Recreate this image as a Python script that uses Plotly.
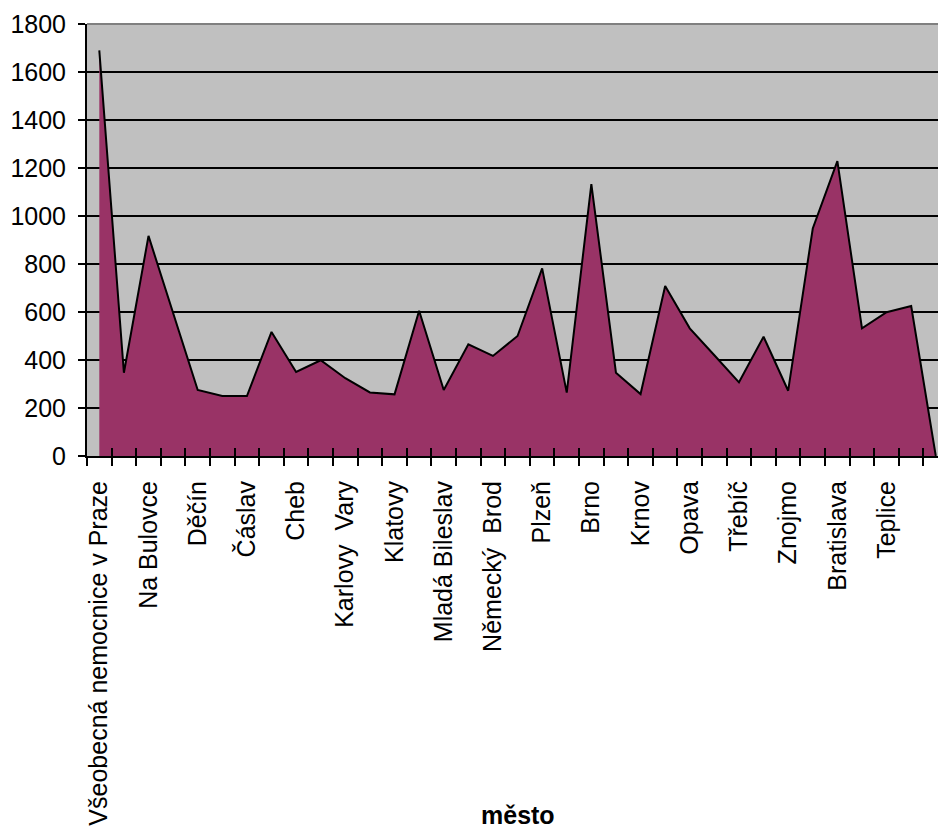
import plotly.graph_objects as go

# Hospitals / cities along the category axis (every second category carries a label)
labels = [
    "Všeobecná nemocnice v Praze", "Na Bulovce", "Děčín", "Čáslav", "Cheb",
    "Karlovy  Vary", "Klatovy", "Mladá Bileslav", "Německý  Brod", "Plzeň",
    "Brno", "Krnov", "Opava", "Třebíč", "Znojmo", "Bratislava", "Teplice",
]
label_every = 2

# Series values, one per category
values = [
    1690, 347, 917, 595, 275, 250, 250, 517, 350, 399,
    324, 265, 257, 605, 275, 465, 417, 500, 782, 264,
    1133, 347, 258, 708, 532, 420, 307, 497, 272, 948,
    1229, 532, 599, 625, 0,
]

y_ticks = list(range(0, 1801, 200))

W, H = 938, 834
ML, MR, MT, MB = 87, 0, 24, 378

n = len(values)
xs = list(range(n))
label_pos = [i * label_every for i in range(len(labels))]
boundaries = [k - 0.5 for k in range(n + 1)]
# plot area is wider than the page; the right part is cut off
x_range = [-0.5, n - 0.91]

FONT = "Arial, 'Liberation Sans', sans-serif"
FS = 25

fig = go.Figure()
fig.add_trace(go.Scatter(
    x=xs, y=values, mode="lines", fill="tozeroy",
    fillcolor="#993366", line=dict(color="black", width=2),
    hoverinfo="x+y", showlegend=False,
))
# helper trace so the overlay axes (inner tick halves) get drawn
fig.add_trace(go.Scatter(x=[None], y=[None], xaxis="x2", yaxis="y2",
                         showlegend=False, hoverinfo="skip"))

fig.update_layout(
    width=W, height=H,
    margin=dict(l=ML, r=MR, t=MT, b=MB, pad=0),
    paper_bgcolor="white", plot_bgcolor="#C0C0C0",
    font=dict(family=FONT, size=FS, color="black"),
    xaxis=dict(
        range=x_range, tickmode="array", tickvals=label_pos, ticktext=labels,
        tickangle=-90, ticks="", showgrid=False, zeroline=False,
        showline=True, linecolor="black", linewidth=2,
        ticklabelstandoff=13,
        minor=dict(tickmode="array", tickvals=boundaries, ticks="outside",
                   ticklen=8, tickwidth=1.5, tickcolor="black", showgrid=False),
        fixedrange=True,
    ),
    xaxis2=dict(
        range=x_range, overlaying="x", anchor="y", side="bottom",
        tickmode="array", tickvals=boundaries, ticks="inside", ticklen=8,
        tickwidth=1.5, tickcolor="black", showticklabels=False,
        showgrid=False, zeroline=False, showline=False, fixedrange=True,
    ),
    yaxis=dict(
        range=[0, 1800], tickmode="array", tickvals=y_ticks,
        ticks="outside", ticklen=7, tickwidth=1.5, tickcolor="black",
        showgrid=True, gridcolor="black", gridwidth=1.5,
        zeroline=False, showline=True, linecolor="black", linewidth=2,
        ticklabelstandoff=7, fixedrange=True,
    ),
    yaxis2=dict(
        range=[0, 1800], overlaying="y", anchor="x", side="left",
        tickmode="array", tickvals=y_ticks, ticks="inside", ticklen=8,
        tickwidth=1.5, tickcolor="black", showticklabels=False,
        showgrid=False, zeroline=False, showline=False, fixedrange=True,
    ),
    shapes=[dict(type="line", xref="paper", yref="paper", x0=0, x1=1, y0=1, y1=1,
                 line=dict(color="#808080", width=2), layer="above")],
)

# axis title, placed below the rotated tick labels
plot_w = W - ML - MR
plot_h = H - MT - MB
full_w = (n) * plot_w / (x_range[1] - x_range[0])
title_x_px = ML + full_w / 2
title_y_px = 815
fig.add_annotation(
    text="<b>město</b>", xref="paper", yref="paper",
    x=(title_x_px - ML) / plot_w, y=((H - MB) - title_y_px) / plot_h,
    xanchor="center", yanchor="middle", showarrow=False,
    font=dict(family=FONT, size=FS, color="black"),
)

fig.write_html("out.html")
